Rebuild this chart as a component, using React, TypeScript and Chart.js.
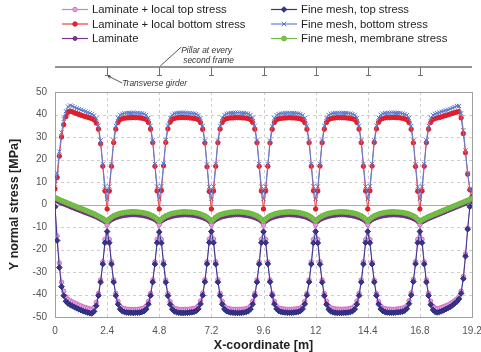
import React, { useEffect, useRef } from "react";
import { Chart, registerables } from "chart.js";

Chart.register(...registerables);

// Node coordinates along the deck strip [m], one row per frame spacing (2.4 m)
const X_COORD = [
  0, 0.1, 0.2, 0.3, 0.4, 0.5, 0.6, 0.7, 0.8, 0.9, 1, 1.1, 1.2, 1.3, 1.4, 1.5, 1.6, 1.7, 1.8, 1.9, 2, 2.1, 2.2, 2.3,
  2.4, 2.5, 2.6, 2.7, 2.8, 2.9, 3, 3.1, 3.2, 3.3, 3.4, 3.5, 3.6, 3.7, 3.8, 3.9, 4, 4.1, 4.2, 4.3, 4.4, 4.5, 4.6, 4.7,
  4.8, 4.9, 5, 5.1, 5.2, 5.3, 5.4, 5.5, 5.6, 5.7, 5.8, 5.9, 6, 6.1, 6.2, 6.3, 6.4, 6.5, 6.6, 6.7, 6.8, 6.9, 7, 7.1,
  7.2, 7.3, 7.4, 7.5, 7.6, 7.7, 7.8, 7.9, 8, 8.1, 8.2, 8.3, 8.4, 8.5, 8.6, 8.7, 8.8, 8.9, 9, 9.1, 9.2, 9.3, 9.4, 9.5,
  9.6, 9.7, 9.8, 9.9, 10, 10.1, 10.2, 10.3, 10.4, 10.5, 10.6, 10.7, 10.8, 10.9, 11, 11.1, 11.2, 11.3, 11.4, 11.5, 11.6, 11.7, 11.8, 11.9,
  12, 12.1, 12.2, 12.3, 12.4, 12.5, 12.6, 12.7, 12.8, 12.9, 13, 13.1, 13.2, 13.3, 13.4, 13.5, 13.6, 13.7, 13.8, 13.9, 14, 14.1, 14.2, 14.3,
  14.4, 14.5, 14.6, 14.7, 14.8, 14.9, 15, 15.1, 15.2, 15.3, 15.4, 15.5, 15.6, 15.7, 15.8, 15.9, 16, 16.1, 16.2, 16.3, 16.4, 16.5, 16.6, 16.7,
  16.8, 16.9, 17, 17.1, 17.2, 17.3, 17.4, 17.5, 17.6, 17.7, 17.8, 17.9, 18, 18.1, 18.2, 18.3, 18.4, 18.5, 18.6, 18.7, 18.8, 18.9, 19, 19.1,
  19.2,
];

// Laminate + local top stress [MPa]
const LAMINATE_TOP = [
  -1, -14, -26, -34.5, -38.5, -41, -42.2, -42.8, -43.3, -43.8, -44.2, -44.7, -45.1, -45.5, -45.8, -46.1, -46.4, -46.5, -45.8, -43.5, -39.5, -33.5, -25.5, -15.5,
  -9, -15.5, -25.5, -33.5, -39.5, -43, -45.2, -46, -46.3, -46.5, -46.6, -46.7, -46.7, -46.6, -46.6, -46.5, -46.3, -46, -45.2, -43, -39.5, -33.5, -25.5, -15.5,
  -9, -15.5, -25.5, -33.6, -39.6, -43.1, -45.3, -46.1, -46.4, -46.6, -46.6, -46.7, -46.6, -46.6, -46.5, -46.4, -46.2, -45.9, -45.1, -42.9, -39.4, -33.4, -25.4, -15.4,
  -9, -15.4, -25.4, -33.4, -39.4, -43, -45.2, -46, -46.3, -46.5, -46.6, -46.6, -46.6, -46.6, -46.5, -46.5, -46.3, -46, -45.2, -43, -39.5, -33.5, -25.5, -15.5,
  -9.1, -15.5, -25.5, -33.5, -39.5, -43, -45.2, -46, -46.3, -46.4, -46.5, -46.6, -46.6, -46.6, -46.5, -46.4, -46.3, -46, -45.2, -43, -39.5, -33.5, -25.5, -15.5,
  -9, -15.5, -25.4, -33.5, -39.5, -43, -45.1, -45.9, -46.2, -46.4, -46.5, -46.5, -46.6, -46.5, -46.5, -46.4, -46.2, -45.9, -45.1, -42.9, -39.5, -33.5, -25.5, -15.6,
  -9, -15.6, -25.6, -33.6, -39.6, -43.1, -45.2, -46, -46.3, -46.5, -46.5, -46.6, -46.6, -46.5, -46.4, -46.3, -46.1, -45.8, -45, -42.8, -39.3, -33.3, -25.4, -15.5,
  -9, -15.5, -25.5, -33.5, -39.5, -43, -45.2, -46, -46.3, -46.1, -45.8, -45.4, -45, -44.6, -44.1, -43.5, -42.8, -42, -41, -38.5, -32, -22, -10.5, -0.5,
  2.5,
];

// Laminate + local bottom stress [MPa]
const LAMINATE_BOTTOM = [
  7, 12, 21.5, 30, 35.5, 39, 41, 41.5, 41.2, 40.8, 40.4, 40, 39.7, 39.4, 39.1, 38.8, 38.5, 38.2, 37.6, 36.2, 33.5, 27, 17, 6,
  -2, 6, 17, 27.5, 33.5, 36.5, 37.8, 38.2, 38.4, 38.5, 38.6, 38.6, 38.7, 38.6, 38.6, 38.5, 38.4, 38.2, 37.8, 36.5, 33.5, 27.5, 17, 6,
  -2, 6.2, 17.2, 27.6, 33.6, 36.6, 37.9, 38.3, 38.5, 38.6, 38.7, 38.7, 38.6, 38.6, 38.5, 38.4, 38.3, 38.1, 37.7, 36.4, 33.4, 27.4, 16.8, 5.8,
  -2, 6, 17, 27.5, 33.5, 36.5, 37.8, 38.2, 38.4, 38.5, 38.5, 38.6, 38.6, 38.6, 38.5, 38.5, 38.4, 38.2, 37.8, 36.5, 33.5, 27.5, 17, 6,
  -2, 6, 17, 27.4, 33.4, 36.5, 37.7, 38.1, 38.3, 38.4, 38.5, 38.5, 38.6, 38.5, 38.5, 38.4, 38.3, 38.1, 37.7, 36.4, 33.4, 27.5, 17, 6.1,
  -2, 6, 17.1, 27.5, 33.5, 36.5, 37.8, 38.2, 38.4, 38.5, 38.6, 38.6, 38.6, 38.6, 38.5, 38.4, 38.3, 38.1, 37.8, 36.5, 33.5, 27.5, 17, 6,
  -2, 6.1, 17.1, 27.6, 33.6, 36.6, 37.9, 38.3, 38.5, 38.6, 38.6, 38.7, 38.7, 38.6, 38.6, 38.5, 38.3, 38.1, 37.7, 36.4, 33.4, 27.4, 16.9, 5.9,
  -2, 6, 17, 27.5, 33.5, 36.5, 37.8, 38.2, 38.5, 38.7, 39, 39.3, 39.6, 39.9, 40.2, 40.5, 40.8, 41.1, 41.3, 38.5, 31.5, 23, 13.5, 6.5,
  3.5,
];

// Laminate (membrane) stress [MPa]
const LAMINATE = [
  2, 1.5, 1, 0.6, 0.2, -0.2, -0.6, -1, -1.4, -1.8, -2.2, -2.5, -2.9, -3.3, -3.7, -4, -4.4, -4.8, -5.2, -5.6, -6.1, -6.6, -7.1, -7.7,
  -8.3, -7.5, -6.8, -6.3, -5.9, -5.6, -5.3, -5.1, -4.9, -4.8, -4.7, -4.6, -4.6, -4.6, -4.7, -4.8, -4.9, -5.1, -5.3, -5.6, -5.9, -6.3, -6.8, -7.5,
  -8.2, -7.4, -6.8, -6.3, -5.9, -5.6, -5.3, -5.1, -4.9, -4.8, -4.7, -4.7, -4.6, -4.7, -4.7, -4.8, -4.9, -5.1, -5.3, -5.6, -5.9, -6.3, -6.8, -7.5,
  -8.3, -7.5, -6.8, -6.3, -5.9, -5.5, -5.3, -5.1, -4.9, -4.8, -4.7, -4.6, -4.6, -4.6, -4.7, -4.8, -4.9, -5.1, -5.3, -5.6, -5.9, -6.3, -6.8, -7.5,
  -8.3, -7.5, -6.9, -6.3, -5.9, -5.6, -5.3, -5.1, -4.9, -4.8, -4.7, -4.6, -4.6, -4.7, -4.7, -4.8, -4.9, -5.1, -5.3, -5.5, -5.9, -6.3, -6.8, -7.4,
  -8.2, -7.5, -6.8, -6.3, -5.9, -5.6, -5.3, -5.1, -4.9, -4.8, -4.7, -4.6, -4.6, -4.6, -4.7, -4.8, -4.9, -5.1, -5.3, -5.6, -5.9, -6.3, -6.8, -7.5,
  -8.3, -7.5, -6.8, -6.3, -5.9, -5.6, -5.3, -5.1, -5, -4.8, -4.7, -4.7, -4.6, -4.7, -4.7, -4.8, -4.9, -5.1, -5.3, -5.6, -5.9, -6.3, -6.8, -7.5,
  -8.3, -7.8, -7.3, -6.8, -6.3, -5.9, -5.5, -5.1, -4.7, -4.3, -3.9, -3.5, -3.1, -2.7, -2.3, -1.9, -1.5, -1.1, -0.7, -0.3, 0.1, 0.4, 0.7, 1,
  1.2,
];

// Fine mesh, top stress [MPa]
const FINE_TOP = [
  -1, -16, -28, -36.5, -40.5, -43, -44, -44.6, -45.1, -45.6, -46.1, -46.6, -47, -47.4, -47.7, -48, -48.3, -48.4, -47.5, -45, -40.5, -34.5, -26.5, -17,
  -12, -17, -26.5, -34.5, -40.5, -44.3, -46.5, -47.4, -47.8, -48, -48.1, -48.1, -48.2, -48.1, -48.1, -48, -47.8, -47.4, -46.5, -44.3, -40.5, -34.5, -26.5, -17,
  -12.2, -17.1, -26.6, -34.6, -40.6, -44.4, -46.6, -47.5, -47.9, -48.1, -48.2, -48.2, -48.2, -48.1, -48, -47.9, -47.7, -47.3, -46.4, -44.2, -40.4, -34.4, -26.4, -16.9,
  -12, -17, -26.5, -34.5, -40.5, -44.3, -46.5, -47.4, -47.8, -48, -48.1, -48.2, -48.2, -48.2, -48.1, -48, -47.8, -47.4, -46.5, -44.3, -40.5, -34.5, -26.5, -17,
  -12.1, -17, -26.4, -34.4, -40.4, -44.2, -46.4, -47.3, -47.7, -47.9, -48, -48.1, -48.1, -48.1, -48, -47.9, -47.7, -47.3, -46.4, -44.2, -40.4, -34.5, -26.5, -17.1,
  -12, -17.1, -26.6, -34.6, -40.6, -44.4, -46.6, -47.5, -47.9, -48.1, -48.2, -48.2, -48.2, -48.1, -48.1, -48, -47.8, -47.4, -46.5, -44.3, -40.5, -34.5, -26.5, -17,
  -12, -17, -26.5, -34.5, -40.5, -44.3, -46.5, -47.4, -47.8, -48, -48.1, -48.1, -48.1, -48, -47.9, -47.8, -47.6, -47.2, -46.3, -44.1, -40.3, -34.3, -26.4, -17,
  -12, -17, -26.5, -34.5, -40.5, -44.5, -46.8, -47.7, -48, -47.8, -47.4, -47, -46.5, -46, -45.5, -44.8, -44, -43.2, -42, -39.5, -33, -23, -11, -1,
  2,
];

// Fine mesh, bottom stress [MPa]
const FINE_BOTTOM = [
  9, 14, 23.5, 32, 38, 41.5, 43.5, 44, 43.7, 43.2, 42.8, 42.4, 42.1, 41.7, 41.3, 41, 40.6, 40.2, 39.6, 38.3, 35, 28.5, 18, 8,
  2.5, 8, 18, 28.5, 35, 38.5, 39.8, 40.3, 40.5, 40.6, 40.7, 40.7, 40.8, 40.7, 40.7, 40.6, 40.5, 40.3, 39.8, 38.5, 35, 28.5, 18, 8,
  2.6, 8.2, 18.2, 28.6, 35.1, 38.6, 39.9, 40.4, 40.6, 40.7, 40.8, 40.8, 40.7, 40.7, 40.6, 40.5, 40.4, 40.2, 39.7, 38.4, 34.9, 28.4, 17.8, 7.8,
  2.5, 8, 18, 28.5, 35, 38.5, 39.8, 40.3, 40.5, 40.6, 40.7, 40.8, 40.8, 40.8, 40.7, 40.6, 40.5, 40.3, 39.8, 38.5, 35, 28.5, 18, 8,
  2.5, 7.9, 17.9, 28.4, 34.9, 38.4, 39.7, 40.2, 40.4, 40.5, 40.6, 40.7, 40.7, 40.7, 40.6, 40.5, 40.4, 40.2, 39.7, 38.4, 35, 28.5, 18, 8.1,
  2.5, 8, 18.1, 28.5, 35, 38.5, 39.8, 40.3, 40.5, 40.6, 40.7, 40.7, 40.7, 40.7, 40.6, 40.5, 40.4, 40.2, 39.8, 38.5, 35, 28.5, 18, 8,
  2.5, 8.1, 18.1, 28.6, 35.1, 38.6, 39.9, 40.4, 40.6, 40.7, 40.7, 40.8, 40.8, 40.7, 40.7, 40.6, 40.4, 40.2, 39.7, 38.4, 34.9, 28.4, 17.9, 7.9,
  2.5, 8, 18, 28.5, 35, 38.5, 39.8, 40.3, 40.6, 40.9, 41.2, 41.5, 41.8, 42.1, 42.5, 42.9, 43.3, 43.8, 43.8, 40.5, 33, 24, 14, 7,
  5.5,
];

// Fine mesh, membrane stress [MPa]
const FINE_MEMBRANE = [
  3, 2.6, 2.1, 1.7, 1.3, 0.9, 0.5, 0.1, -0.3, -0.7, -1.1, -1.5, -1.8, -2.2, -2.6, -3, -3.4, -3.8, -4.2, -4.7, -5.2, -5.7, -6.3, -6.9,
  -7.6, -6.5, -5.7, -5.1, -4.7, -4.3, -4, -3.8, -3.6, -3.5, -3.4, -3.3, -3.3, -3.3, -3.4, -3.5, -3.6, -3.8, -4, -4.3, -4.7, -5.1, -5.7, -6.5,
  -7.5, -6.5, -5.7, -5.1, -4.7, -4.3, -4, -3.8, -3.6, -3.5, -3.4, -3.3, -3.3, -3.4, -3.4, -3.5, -3.6, -3.8, -4, -4.3, -4.7, -5.1, -5.7, -6.5,
  -7.6, -6.6, -5.7, -5.1, -4.6, -4.3, -4, -3.8, -3.6, -3.5, -3.4, -3.3, -3.3, -3.3, -3.4, -3.5, -3.6, -3.8, -4, -4.3, -4.7, -5.1, -5.7, -6.5,
  -7.6, -6.5, -5.7, -5.1, -4.7, -4.3, -4, -3.8, -3.6, -3.5, -3.4, -3.4, -3.3, -3.4, -3.4, -3.5, -3.6, -3.8, -4, -4.3, -4.6, -5.1, -5.7, -6.5,
  -7.5, -6.5, -5.7, -5.1, -4.7, -4.3, -4, -3.8, -3.6, -3.5, -3.4, -3.3, -3.3, -3.3, -3.4, -3.5, -3.6, -3.8, -4, -4.3, -4.7, -5.1, -5.7, -6.5,
  -7.6, -6.5, -5.7, -5.1, -4.7, -4.3, -4, -3.8, -3.6, -3.5, -3.4, -3.3, -3.3, -3.4, -3.4, -3.5, -3.6, -3.8, -4, -4.3, -4.7, -5.1, -5.7, -6.6,
  -7.6, -6.9, -6.4, -5.9, -5.4, -5, -4.6, -4.2, -3.8, -3.4, -3, -2.6, -2.2, -1.8, -1.4, -1, -0.6, -0.2, 0.2, 0.6, 1, 1.4, 1.8, 2.2,
  2.6,
];

const X_TICKS = [0, 2.4, 4.8, 7.2, 9.6, 12, 14.4, 16.8, 19.2];
const X_TICK_LABELS = ["0", "2.4", "4.8", "7.2", "9.6", "12", "14.4", "16.8", "19.2"];
// Transverse girders under the deck (pillar at every second frame)
const GIRDERS = [2.4, 4.8, 7.2, 9.6, 12, 14.4, 16.8];

const FONT = "'Liberation Sans', Arial, Helvetica, sans-serif";

type Marker = "circle" | "rectRot" | "crossRot";
interface Series {
  label: string;
  values: number[];
  line: string;
  fill: string;
  stroke: string;
  marker: Marker;
  radius: number;
  order: number;
  col: number;
  row: number;
}

const SERIES: Series[] = [
  { label: "Laminate + local top stress", values: LAMINATE_TOP, line: "#d57bc6", fill: "#e9a3df", stroke: "#cf6cc0", marker: "circle", radius: 2.2, order: 4, col: 0, row: 0 },
  { label: "Laminate + local bottom stress", values: LAMINATE_BOTTOM, line: "#e8404a", fill: "#e8202e", stroke: "#d81c2a", marker: "circle", radius: 2.2, order: 3, col: 0, row: 1 },
  { label: "Laminate", values: LAMINATE, line: "#7d3590", fill: "#7d3590", stroke: "#6e2a82", marker: "circle", radius: 2, order: 5, col: 0, row: 2 },
  { label: "Fine mesh, top stress", values: FINE_TOP, line: "#34358c", fill: "#34358c", stroke: "#2a2b7c", marker: "rectRot", radius: 2.8, order: 1, col: 1, row: 0 },
  { label: "Fine mesh, bottom stress", values: FINE_BOTTOM, line: "#5f80d4", fill: "#5f80d4", stroke: "#5574cc", marker: "crossRot", radius: 3, order: 2, col: 1, row: 1 },
  { label: "Fine mesh, membrane stress", values: FINE_MEMBRANE, line: "#72bd48", fill: "#7cc34e", stroke: "#6ab43f", marker: "circle", radius: 2.4, order: 0, col: 1, row: 2 },
];

function drawMarker(ctx: CanvasRenderingContext2D, s: Series, x: number, y: number) {
  const r = s.radius;
  ctx.save();
  ctx.fillStyle = s.fill;
  ctx.strokeStyle = s.stroke;
  ctx.lineWidth = 1;
  ctx.beginPath();
  if (s.marker === "circle") {
    ctx.arc(x, y, r, 0, Math.PI * 2);
    ctx.fill();
    ctx.stroke();
  } else if (s.marker === "rectRot") {
    ctx.moveTo(x, y - r);
    ctx.lineTo(x + r, y);
    ctx.lineTo(x, y + r);
    ctx.lineTo(x - r, y);
    ctx.closePath();
    ctx.fill();
    ctx.stroke();
  } else {
    const d = r * 0.75;
    ctx.moveTo(x - d, y - d);
    ctx.lineTo(x + d, y + d);
    ctx.moveTo(x + d, y - d);
    ctx.lineTo(x - d, y + d);
    ctx.stroke();
  }
  ctx.restore();
}

function segment(ctx: CanvasRenderingContext2D, x1: number, y1: number, x2: number, y2: number) {
  ctx.beginPath();
  ctx.moveTo(x1, y1);
  ctx.lineTo(x2, y2);
  ctx.stroke();
}

const decorations = {
  id: "deckDecorations",
  beforeDatasetsDraw(chart: Chart) {
    const { ctx, chartArea: a } = chart;
    const xs = chart.scales.x;
    const ys = chart.scales.y;
    ctx.save();
    ctx.lineWidth = 1;
    // dashed grid
    ctx.strokeStyle = "#cdcdcd";
    ctx.setLineDash([3, 3]);
    for (const v of X_TICKS) {
      if (v === X_TICKS[0] || v === X_TICKS[X_TICKS.length - 1]) continue;
      const px = Math.round(xs.getPixelForValue(v)) + 0.5;
      segment(ctx, px, a.top, px, a.bottom);
    }
    for (const t of ys.ticks) {
      if (t.value === 0 || t.value === ys.min || t.value === ys.max) continue;
      const py = Math.round(ys.getPixelForValue(t.value)) + 0.5;
      segment(ctx, a.left, py, a.right, py);
    }
    ctx.setLineDash([]);
    // zero line
    ctx.strokeStyle = "#ababab";
    const zy = Math.round(ys.getPixelForValue(0)) + 0.5;
    segment(ctx, a.left, zy, a.right, zy);
    // plot frame
    ctx.strokeStyle = "#a0a0a0";
    ctx.strokeRect(Math.round(a.left) + 0.5, Math.round(a.top) + 0.5, Math.round(a.right - a.left), Math.round(a.bottom - a.top));
    ctx.restore();
  },
  afterDraw(chart: Chart) {
    const { ctx } = chart;
    const xs = chart.scales.x;
    ctx.save();

    // legend, two columns
    const colLine = [62, 271];
    const rowY = [9.5, 24, 38.5];
    ctx.font = `11.3px ${FONT}`;
    ctx.textBaseline = "middle";
    ctx.textAlign = "left";
    for (const s of SERIES) {
      const x0 = colLine[s.col];
      const y0 = rowY[s.row];
      ctx.strokeStyle = s.line;
      ctx.lineWidth = 1.2;
      segment(ctx, x0, y0, x0 + 26, y0);
      drawMarker(ctx, s, x0 + 13, y0);
      ctx.fillStyle = "#1e1e1e";
      ctx.fillText(s.label, x0 + 30, y0 + 0.5);
    }

    // deck sketch with transverse girders
    const lineY = 67;
    const xStart = xs.getPixelForValue(X_TICKS[0]);
    const xEnd = xs.getPixelForValue(X_TICKS[X_TICKS.length - 1]);
    ctx.strokeStyle = "#6f6f6f";
    ctx.lineWidth = 1.4;
    segment(ctx, xStart, lineY, xEnd, lineY);
    ctx.lineWidth = 1;
    for (const g of GIRDERS) {
      const gx = Math.round(xs.getPixelForValue(g)) + 0.5;
      segment(ctx, gx, lineY, gx, lineY + 8);
      segment(ctx, gx - 2.5, lineY + 8.5, gx + 2.5, lineY + 8.5);
    }

    // annotations
    const pillarX = xs.getPixelForValue(GIRDERS[1]);
    const girderX = xs.getPixelForValue(GIRDERS[0]);
    ctx.strokeStyle = "#444";
    ctx.lineWidth = 0.9;
    segment(ctx, pillarX + 1, lineY - 1, pillarX + 22, lineY - 20);
    segment(ctx, girderX + 1, lineY + 9, girderX + 15, lineY + 16);
    segment(ctx, girderX + 1, lineY + 9, girderX + 4, lineY + 9.3);
    segment(ctx, girderX + 1, lineY + 9, girderX + 2.5, lineY + 11.5);

    ctx.fillStyle = "#333";
    ctx.font = `italic 8.4px ${FONT}`;
    ctx.textBaseline = "alphabetic";
    ctx.fillText("Pillar at every", pillarX + 22, lineY - 14);
    ctx.fillText("second frame", pillarX + 24, lineY - 4.5);
    ctx.fillText("Transverse girder", girderX + 15, lineY + 19);

    ctx.restore();
  },
};

export default function App() {
  const canvasRef = useRef<HTMLCanvasElement>(null);

  useEffect(() => {
    const canvas = canvasRef.current;
    if (!canvas) return;

    const chart = new Chart(canvas, {
      type: "line",
      data: {
        datasets: SERIES.map((s) => ({
          label: s.label,
          data: X_COORD.map((x, i) => ({ x, y: s.values[i] })),
          borderColor: s.line,
          backgroundColor: s.fill,
          borderWidth: 1,
          pointStyle: s.marker,
          pointRadius: s.radius,
          pointBorderWidth: 1,
          pointBackgroundColor: s.fill,
          pointBorderColor: s.stroke,
          tension: 0,
          order: s.order,
        })),
      },
      options: {
        responsive: false,
        animation: false,
        devicePixelRatio: 1,
        layout: { padding: { top: 92, right: 9, bottom: 0, left: 0 } },
        plugins: {
          legend: { display: false },
          tooltip: { enabled: false },
        },
        scales: {
          x: {
            type: "linear",
            min: 0,
            max: 19.2,
            grid: { display: false, drawTicks: false },
            border: { display: false },
            afterBuildTicks: (scale: any) => {
              scale.ticks = X_TICKS.map((value) => ({ value }));
            },
            afterFit: (scale: any) => {
              scale.height = 35;
              scale.paddingLeft = 0;
              scale.paddingRight = 0;
            },
            ticks: {
              autoSkip: false,
              maxRotation: 0,
              padding: 8,
              color: "#555",
              font: { family: FONT, size: 10 },
              callback: (v: any) => {
                const i = X_TICKS.indexOf(Number(v));
                return i >= 0 ? X_TICK_LABELS[i] : "";
              },
            },
            title: {
              display: true,
              text: "X-coordinate [m]",
              color: "#222",
              padding: { top: 0, bottom: 0 },
              font: { family: FONT, size: 12.5, weight: "bold", lineHeight: 1 },
            },
          },
          y: {
            type: "linear",
            min: -50,
            max: 50,
            grid: { display: false, drawTicks: false },
            border: { display: false },
            afterFit: (scale: any) => {
              scale.width = 55;
            },
            ticks: {
              stepSize: 10,
              padding: 8,
              color: "#555",
              font: { family: FONT, size: 10 },
            },
            title: {
              display: true,
              text: "Y normal stress [MPa]",
              color: "#222",
              padding: { top: 8, bottom: 0 },
              font: { family: FONT, size: 12.5, weight: "bold", lineHeight: 1 },
            },
          },
        },
      },
      plugins: [decorations],
    } as any);

    return () => chart.destroy();
  }, []);

  return (
    <div style={{ position: "fixed", left: 0, top: 0, width: 481, height: 352, background: "#fff" }}>
      <canvas ref={canvasRef} width={481} height={352} style={{ display: "block", width: 481, height: 352 }} />
    </div>
  );
}
